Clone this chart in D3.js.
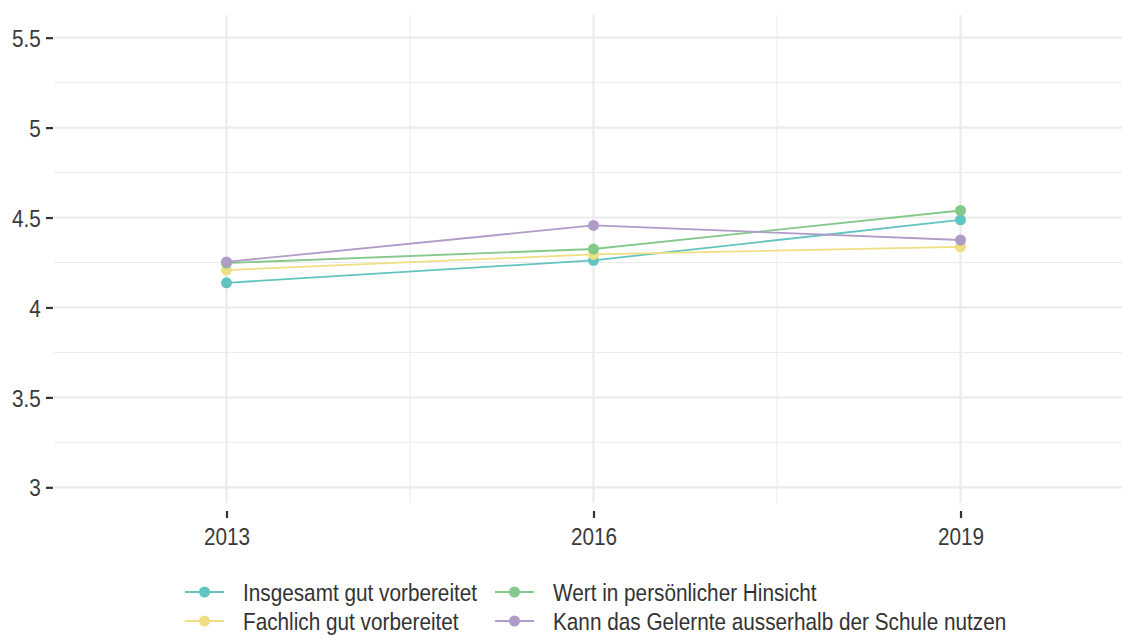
<!DOCTYPE html>
<html>
<head>
<meta charset="utf-8">
<script src="https://cdn.jsdelivr.net/npm/d3@7"></script>
<style>
  body { margin: 0; background: #fff; }
  text { font-family: "Liberation Sans Narrow", "Liberation Sans", Arial, sans-serif; }
</style>
</head>
<body>
<div id="chart"></div>
<script>
// data
const years = ["2013", "2016", "2019"];
const seriesNames = [
    "Insgesamt gut vorbereitet",
    "Fachlich gut vorbereitet",
    "Wert in persönlicher Hinsicht",
    "Kann das Gelernte ausserhalb der Schule nutzen"
];
const insgesamt = [4.137, 4.262, 4.487];
const fachlich = [4.208, 4.295, 4.337];
const wert = [4.247, 4.325, 4.539];
const kann = [4.253, 4.456, 4.375];
const yTicks = [3, 3.5, 4, 4.5, 5, 5.5];
const colors = ["#62c4c1", "#efdf82", "#84c98a", "#b09cc9"];

const width = 1122;
const height = 635;
const panel = { left: 54, right: 1122, top: 15, bottom: 508 };
const squeeze = 0.865; // the reference text is horizontally condensed

const svg = d3.select("#chart")
    .append("svg")
    .attr("width", width)
    .attr("height", height);

// x positions: 2013 at 225, 2019 at 960 in the reference
const xScale = d3.scaleLinear()
    .domain([2011.59, 2020.32])
    .range([panel.left, panel.right]);

const yScale = d3.scaleLinear()
    .domain([2.885, 5.626])
    .range([panel.bottom, panel.top]);

// minor grid
const yMinor = d3.range(3.25, 5.6, 0.5);
svg.append("g").selectAll("line")
    .data(yMinor)
    .join("line")
    .attr("x1", panel.left).attr("x2", panel.right)
    .attr("y1", d => yScale(d)).attr("y2", d => yScale(d))
    .attr("stroke", "#ebebeb").attr("stroke-width", 1);

svg.append("g").selectAll("line")
    .data([2014.5, 2017.5])
    .join("line")
    .attr("x1", d => xScale(d)).attr("x2", d => xScale(d))
    .attr("y1", panel.top).attr("y2", panel.bottom - 5)
    .attr("stroke", "#ebebeb").attr("stroke-width", 1);

// major grid
svg.append("g").selectAll("line")
    .data(yTicks)
    .join("line")
    .attr("x1", panel.left).attr("x2", panel.right)
    .attr("y1", d => yScale(d)).attr("y2", d => yScale(d))
    .attr("stroke", "#ebebeb").attr("stroke-width", 2.2);

svg.append("g").selectAll("line")
    .data(years)
    .join("line")
    .attr("x1", d => xScale(+d)).attr("x2", d => xScale(+d))
    .attr("y1", panel.top).attr("y2", panel.bottom - 5)
    .attr("stroke", "#ebebeb").attr("stroke-width", 2.2);

// y axis
const yAxis = d3.axisLeft(yScale)
    .tickValues(yTicks)
    .tickFormat(d => String(d))
    .tickSize(7)
    .tickPadding(7);

const yg = svg.append("g")
    .attr("transform", `translate(${panel.left - 1},0)`)
    .call(yAxis);
yg.select(".domain").remove();
yg.selectAll(".tick line").attr("stroke", "#333").attr("stroke-width", 2.2);
yg.selectAll(".tick text")
    .attr("fill", "#3a3a3a")
    .style("font-size", "24px")
    .attr("dy", "0.36em")
    .attr("transform", `scale(${squeeze},1)`);

// x axis
const xAxis = d3.axisBottom(xScale)
    .tickValues(years.map(Number))
    .tickFormat(d => String(d))
    .tickSize(7)
    .tickPadding(10);

const xg = svg.append("g")
    .attr("transform", `translate(0,${panel.bottom + 3})`)
    .call(xAxis);
xg.select(".domain").remove();
xg.selectAll(".tick line").attr("stroke", "#333").attr("stroke-width", 2.2);
xg.selectAll(".tick text")
    .attr("fill", "#3a3a3a")
    .style("font-size", "24px")
    .attr("transform", `scale(${squeeze},1)`);

// series
const series = [insgesamt, fachlich, wert, kann].map((vals, i) => ({
    name: seriesNames[i],
    color: colors[i],
    values: vals.map((v, j) => ({ year: +years[j], value: v }))
}));

const line = d3.line()
    .x(d => xScale(d.year))
    .y(d => yScale(d.value));

svg.append("g").selectAll("path")
    .data(series)
    .join("path")
    .attr("d", d => line(d.values))
    .attr("fill", "none")
    .attr("stroke", d => d.color)
    .attr("stroke-width", 1.8);

// draw points in order so later series sit on top
series.forEach(s => {
    svg.append("g").selectAll("circle")
        .data(s.values)
        .join("circle")
        .attr("cx", d => xScale(d.year))
        .attr("cy", d => yScale(d.value))
        .attr("r", 5.5)
        .attr("fill", s.color);
});

// legend: two columns, filled column-wise
const legendCols = [185, 495];
const legendRows = [592, 621];
const legend = svg.append("g");
series.forEach((s, i) => {
    const col = Math.floor(i / 2);
    const row = i % 2;
    const g = legend.append("g")
        .attr("transform", `translate(${legendCols[col]},${legendRows[row]})`);
    g.append("line")
        .attr("x1", 0).attr("x2", 39)
        .attr("stroke", s.color).attr("stroke-width", 1.8);
    g.append("circle")
        .attr("cx", 19.5).attr("r", 5.5)
        .attr("fill", s.color);
    g.append("text")
        .attr("transform", `translate(58,0) scale(${squeeze},1)`)
        .attr("dy", "0.36em")
        .attr("fill", "#333")
        .style("font-size", "24px")
        .text(s.name);
});
</script>
</body>
</html>
